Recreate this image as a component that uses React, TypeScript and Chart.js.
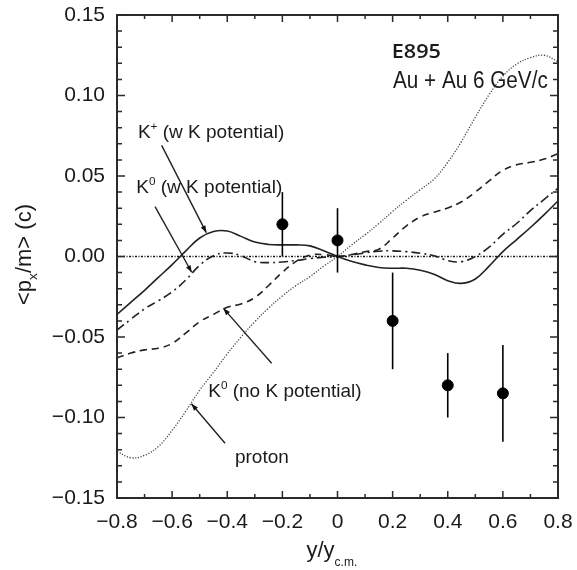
import React, { useEffect, useRef } from "react";
import { Chart, registerables } from "chart.js";

Chart.register(...registerables);

// ---- data ----
const curveX = [-0.8, -0.75, -0.7, -0.65, -0.6, -0.55, -0.5, -0.45, -0.4, -0.35, -0.3, -0.25, -0.2, -0.15, -0.1, -0.05, 0, 0.05, 0.1, 0.15, 0.2, 0.25, 0.3, 0.35, 0.4, 0.45, 0.5, 0.55, 0.6, 0.65, 0.7, 0.75, 0.8];

const kPlusWithPot = [-0.036, -0.0285, -0.021, -0.013, -0.005, 0.0035, 0.0115, 0.0155, 0.0158, 0.0125, 0.009, 0.0075, 0.0072, 0.0072, 0.0066, 0.0035, 0, -0.003, -0.0052, -0.0068, -0.0073, -0.0073, -0.0085, -0.011, -0.015, -0.0167, -0.014, -0.006, 0.003, 0.0105, 0.018, 0.026, 0.0345];

const k0WithPot = [-0.0457, -0.039, -0.0325, -0.0275, -0.022, -0.0145, -0.0055, 0.0005, 0.0022, 0.0005, -0.0032, -0.0038, -0.0034, -0.0025, -0.0013, -0.0005, 0, 0.001, 0.0022, 0.0033, 0.0035, 0.003, 0.002, 0.0005, -0.0025, -0.0032, 0.0, 0.0058, 0.0138, 0.0205, 0.0285, 0.0355, 0.0424];

const k0NoPot = [-0.063, -0.06, -0.058, -0.057, -0.054, -0.0475, -0.0405, -0.036, -0.0315, -0.0295, -0.0255, -0.018, -0.0098, -0.003, 0.0008, 0.0012, 0, 0.0012, 0.003, 0.0045, 0.0115, 0.019, 0.0245, 0.0275, 0.0302, 0.034, 0.04, 0.047, 0.0535, 0.057, 0.0585, 0.0605, 0.0638];

const proton = [-0.121, -0.125, -0.1235, -0.118, -0.108, -0.096, -0.083, -0.072, -0.0605, -0.05, -0.0405, -0.032, -0.0245, -0.018, -0.0125, -0.006, 0, 0.007, 0.0135, 0.0205, 0.028, 0.035, 0.0415, 0.048, 0.0585, 0.0715, 0.0865, 0.1005, 0.112, 0.1195, 0.1235, 0.125, 0.121];

const dataX = [-0.2, 0, 0.2, 0.4, 0.6];
const dataY = [0.02, 0.01, -0.04, -0.08, -0.085];
const dataErr = [0.02, 0.02, 0.03, 0.02, 0.03];

const xTickValues = [-0.8, -0.6, -0.4, -0.2, 0, 0.2, 0.4, 0.6, 0.8];
const yTickValues = [-0.15, -0.1, -0.05, 0, 0.05, 0.1, 0.15];

const zeroLineX = [-0.8, 0.8];

// annotations (data coordinates)
type Part = { t: string; sup?: boolean; sub?: boolean };
const notes: { parts: Part[]; x: number; y: number; arrow?: number[]; font?: string; size?: number; weight?: string; sx?: number }[] = [
  { parts: [{ t: "K" }, { t: "+", sup: true }, { t: " (w K potential)" }], x: -0.724, y: 0.0734, arrow: [-0.638, 0.069, -0.476, 0.0148] },
  { parts: [{ t: "K" }, { t: "0", sup: true }, { t: " (w K potential)" }], x: -0.73, y: 0.0394, arrow: [-0.662, 0.031, -0.529, -0.0098] },
  { parts: [{ t: "K" }, { t: "0", sup: true }, { t: " (no K potential)" }], x: -0.469, y: -0.0871, arrow: [-0.239, -0.0663, -0.414, -0.0322] },
  { parts: [{ t: "proton" }], x: -0.372, y: -0.1284, arrow: [-0.408, -0.116, -0.53, -0.0915] },
  { parts: [{ t: "E895" }], x: 0.197, y: 0.1231, font: "'Open Sans', 'Noto Sans', sans-serif", size: 20, weight: "600", sx: 1.08 },
  { parts: [{ t: "Au + Au 6 GeV/c" }], x: 0.2014, y: 0.1045, font: "'Liberation Sans'", size: 23, sx: 0.9 },
];

const FONT = "'Liberation Sans', Arial, sans-serif";

function richWidth(ctx: CanvasRenderingContext2D, parts: Part[], size: number, family: string, weight: string) {
  let w = 0;
  for (const p of parts) {
    const s = p.sup || p.sub ? size * 0.62 : size;
    ctx.font = `${weight} ${s}px ${family}`;
    w += ctx.measureText(p.t).width;
  }
  return w;
}

function drawRich(ctx: CanvasRenderingContext2D, parts: Part[], x: number, y: number, size: number, family: string, weight = "normal") {
  let cx = x;
  for (const p of parts) {
    const s = p.sup || p.sub ? size * 0.62 : size;
    ctx.font = `${weight} ${s}px ${family}`;
    const dy = p.sup ? -size * 0.42 : p.sub ? size * 0.3 : 0;
    ctx.fillText(p.t, cx, y + dy);
    cx += ctx.measureText(p.t).width;
  }
}

const fmt = (v: number, d: number) => {
  if (Math.abs(v) < 1e-9) return d === 1 ? "0" : "0.00";
  const s = Math.abs(v).toFixed(d);
  return v < 0 ? "\u2212" + s : s;
};

const overlay = {
  id: "overlay",
  afterDatasetsDraw(chart: any) {
    const { ctx, chartArea: a, scales } = chart;
    const x = scales.x;
    const y = scales.y;
    ctx.save();
    // error bars
    ctx.strokeStyle = "#000";
    ctx.lineWidth = 1.6;
    dataX.forEach((v, i) => {
      const px = x.getPixelForValue(v);
      ctx.beginPath();
      ctx.moveTo(px, y.getPixelForValue(dataY[i] - dataErr[i]));
      ctx.lineTo(px, y.getPixelForValue(dataY[i] + dataErr[i]));
      ctx.stroke();
    });
    // frame
    ctx.strokeStyle = "#2a2a2a";
    ctx.lineWidth = 2;
    ctx.strokeRect(a.left, a.top, a.right - a.left, a.bottom - a.top);
    // ticks
    ctx.lineWidth = 1.5;
    ctx.beginPath();
    for (let i = -8; i <= 8; i++) {
      const px = x.getPixelForValue(i / 10);
      const len = i % 2 === 0 ? 7 : 4;
      ctx.moveTo(px, a.bottom);
      ctx.lineTo(px, a.bottom - len);
      ctx.moveTo(px, a.top);
      ctx.lineTo(px, a.top + len);
    }
    for (let i = -15; i <= 15; i++) {
      const py = y.getPixelForValue(i / 100);
      const len = i % 5 === 0 ? 8 : 5;
      ctx.moveTo(a.left, py);
      ctx.lineTo(a.left + len, py);
      ctx.moveTo(a.right, py);
      ctx.lineTo(a.right - len, py);
    }
    ctx.stroke();

    // notes
    ctx.fillStyle = "#1a1a1a";
    ctx.textBaseline = "alphabetic";
    ctx.textAlign = "left";
    for (const n of notes) {
      const px = x.getPixelForValue(n.x);
      const py = y.getPixelForValue(n.y);
      const size = n.size ?? 19;
      const fam = n.font ?? FONT;
      ctx.save();
      ctx.translate(px, py);
      if (n.sx) ctx.scale(n.sx, 1);
      drawRich(ctx, n.parts, 0, 0, size, fam, n.weight ?? "normal");
      ctx.restore();
      if (n.arrow) {
        const [x1, y1, x2, y2] = n.arrow;
        const ax = x.getPixelForValue(x1), ay = y.getPixelForValue(y1);
        const bx = x.getPixelForValue(x2), by = y.getPixelForValue(y2);
        ctx.strokeStyle = "#222";
        ctx.lineWidth = 1.4;
        ctx.beginPath();
        ctx.moveTo(ax, ay);
        ctx.lineTo(bx, by);
        ctx.stroke();
        const ang = Math.atan2(by - ay, bx - ax);
        const L = 7, W = 2.6;
        ctx.fillStyle = "#111";
        ctx.beginPath();
        ctx.moveTo(bx, by);
        ctx.lineTo(bx - L * Math.cos(ang) + W * Math.sin(ang), by - L * Math.sin(ang) - W * Math.cos(ang));
        ctx.lineTo(bx - L * Math.cos(ang) - W * Math.sin(ang), by - L * Math.sin(ang) + W * Math.cos(ang));
        ctx.closePath();
        ctx.fill();
        ctx.fillStyle = "#1a1a1a";
      }
    }

    // axis titles
    ctx.fillStyle = "#1a1a1a";
    const yParts: Part[] = [{ t: "<p" }, { t: "x", sub: true }, { t: "/m> (c)" }];
    const yw = richWidth(ctx, yParts, 22, FONT, "normal");
    ctx.save();
    ctx.translate(a.left - 86.5, (a.top + a.bottom) / 2 - 2);
    ctx.rotate(-Math.PI / 2);
    drawRich(ctx, yParts, -yw / 2, 0, 22, FONT);
    ctx.restore();
    ctx.font = `22px ${FONT}`;
    const x0 = x.getPixelForValue(0) - 31;
    ctx.fillText("y/y", x0, a.bottom + 59);
    const w0 = ctx.measureText("y/y").width;
    ctx.font = `12px ${FONT}`;
    ctx.fillText("c.m.", x0 + w0, a.bottom + 68);
    ctx.restore();
  },
};

export default function App() {
  const ref = useRef<HTMLCanvasElement | null>(null);
  useEffect(() => {
    if (!ref.current) return;
    const line = (vals: number[], dash: number[], width: number, color: string) => ({
      type: "scatter" as const,
      data: curveX.map((v, i) => ({ x: v, y: vals[i] })),
      showLine: true,
      borderColor: color,
      backgroundColor: color,
      borderWidth: width,
      borderDash: dash,
      pointRadius: 0,
      tension: 0.4,
    });
    const chart = new Chart(ref.current, {
      type: "scatter",
      data: {
        datasets: [
          {
            data: zeroLineX.map((v) => ({ x: v, y: 0 })),
            showLine: true,
            borderColor: "#111",
            borderWidth: 1.3,
            borderDash: [2, 1.5, 1, 1.5],
            pointRadius: 0,
          },
          line(proton, [1.2, 1.6], 1.3, "#444"),
          line(k0NoPot, [7, 5], 1.6, "#222"),
          line(k0WithPot, [9, 4, 2, 4], 1.6, "#222"),
          line(kPlusWithPot, [], 1.6, "#222"),
          {
            data: dataX.map((v, i) => ({ x: v, y: dataY[i] })),
            pointRadius: 5.5,
            pointBackgroundColor: "#000",
            pointBorderColor: "#000",
            showLine: false,
          },
        ] as any,
      },
      options: {
        animation: false,
        responsive: false,
        devicePixelRatio: 1,
        layout: { padding: { top: 15, right: 19, left: 0, bottom: 0 } },
        plugins: { legend: { display: false }, tooltip: { enabled: false } },
        scales: {
          x: {
            type: "linear",
            min: -0.8,
            max: 0.8,
            grid: { display: false, drawTicks: false },
            border: { display: false },
            afterBuildTicks: (s: any) => {
              s.ticks = xTickValues.map((v) => ({ value: v }));
            },
            afterFit: (s: any) => {
              s.height = 72;
              s.paddingLeft = 0;
              s.paddingRight = 0;
            },
            ticks: {
              callback: (v: any) => fmt(Number(v), 1),
              font: { family: FONT, size: 21 },
              color: "#1a1a1a",
              padding: 12,
              maxRotation: 0,
              autoSkip: false,
            },
          },
          y: {
            type: "linear",
            min: -0.15,
            max: 0.15,
            grid: { display: false, drawTicks: false },
            border: { display: false },
            afterBuildTicks: (s: any) => {
              s.ticks = yTickValues.map((v) => ({ value: v }));
            },
            afterFit: (s: any) => {
              s.width = 117;
              s.paddingTop = 0;
              s.paddingBottom = 0;
            },
            ticks: {
              callback: (v: any) => fmt(Number(v), 2),
              font: { family: FONT, size: 21 },
              color: "#1a1a1a",
              padding: 12,
              autoSkip: false,
            },
          },
        },
      } as any,
      plugins: [overlay],
    });
    return () => chart.destroy();
  }, []);
  return (
    <div style={{ position: "fixed", left: 0, top: 0, width: 577, height: 570, background: "#fff" }}>
      <canvas ref={ref} width={577} height={570} style={{ display: "block" }} />
    </div>
  );
}
